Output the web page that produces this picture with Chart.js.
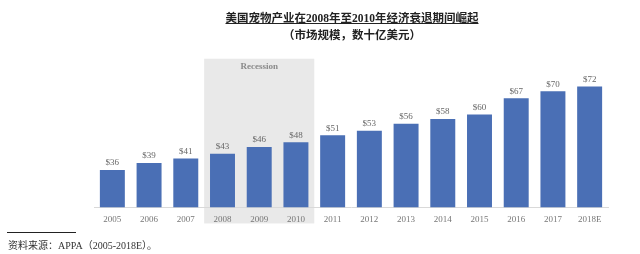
<!DOCTYPE html>
<html>
<head>
<meta charset="utf-8">
<script src="https://cdn.jsdelivr.net/npm/chart.js@4"></script>
<style>
  html, body { margin: 0; padding: 0; background: #fff; }
  #wrap { position: relative; width: 640px; height: 254px; overflow: hidden; }
  #chart { position: absolute; left: 0; top: 0; }
  .title { position: absolute; left: 0; width: 704px; text-align: center; font-family: "Liberation Serif", "Noto Sans CJK SC", serif; font-weight: bold; font-size: 11.5px; color: #222; }
  #t1 { top: 9px; text-decoration: underline; }
  #t2 { top: 26px; }
  #rule { position: absolute; left: 7px; top: 232px; width: 69px; height: 1px; background: #222; }
  #source { position: absolute; left: 8px; top: 237px; font-family: "Liberation Serif", "Noto Sans CJK SC", serif; font-size: 10px; color: #333; }
</style>
</head>
<body>
<div id="wrap">
  <canvas id="chart" width="640" height="254"></canvas>
  <div class="title" id="t1">美国宠物产业在2008年至2010年经济衰退期间崛起</div>
  <div class="title" id="t2">（市场规模，数十亿美元）</div>
  <div id="rule"></div>
  <div id="source">资料来源：APPA（2005-2018E）。</div>
</div>
<script>
const years = ['2005', '2006', '2007', '2008', '2009', '2010', '2011', '2012', '2013', '2014', '2015', '2016', '2017', '2018E'];
const marketSize = [36, 39, 41, 43, 46, 48, 51, 53, 56, 58, 60, 67, 70, 72];
const recessionYears = ['2008', '2010'];
const recessionLabel = 'Recession';

// shaded recession band, drawn before the axis so the year labels stay on top
const recessionBand = {
  id: 'recessionBand',
  beforeDraw(chart) {
    const { ctx, scales: { x, y } } = chart;
    const step = x.getPixelForValue(1) - x.getPixelForValue(0);
    const left = x.getPixelForValue(years.indexOf(recessionYears[0])) - step / 2;
    const right = x.getPixelForValue(years.indexOf(recessionYears[1])) + step / 2;
    const top = y.getPixelForValue(84);
    const bottom = y.getPixelForValue(13);
    ctx.save();
    ctx.fillStyle = '#e9e9e9';
    ctx.fillRect(left, top, right - left, bottom - top);
    ctx.fillStyle = '#8a8a8a';
    ctx.font = 'bold 9px "Liberation Serif"';
    ctx.textAlign = 'center';
    ctx.textBaseline = 'middle';
    ctx.fillText(recessionLabel, (left + right) / 2, top + 8);
    ctx.restore();
  }
};

// "$xx" labels above each bar
const valueLabels = {
  id: 'valueLabels',
  afterDatasetsDraw(chart) {
    const { ctx } = chart;
    const meta = chart.getDatasetMeta(0);
    ctx.save();
    ctx.fillStyle = '#666';
    ctx.font = '9px "Liberation Serif"';
    ctx.textAlign = 'center';
    ctx.textBaseline = 'middle';
    meta.data.forEach((bar, i) => {
      ctx.fillText('$' + marketSize[i], bar.x, bar.y - 7);
    });
    ctx.restore();
  }
};

new Chart(document.getElementById('chart').getContext('2d'), {
  type: 'bar',
  data: {
    labels: years,
    datasets: [{
      data: marketSize,
      backgroundColor: '#4a6fb5',
      barPercentage: 0.85,
      categoryPercentage: 0.8
    }]
  },
  options: {
    responsive: false,
    animation: false,
    events: [],
    layout: { padding: { left: 94, right: 32, top: 68, bottom: 22 } },
    plugins: { legend: { display: false }, tooltip: { enabled: false } },
    scales: {
      x: {
        grid: { display: false, drawTicks: false },
        border: { display: true, color: '#d9d9d9' },
        ticks: { color: '#777', font: { family: 'Liberation Serif', size: 9 }, padding: 7, maxRotation: 0 }
      },
      y: { display: false, min: 20, max: 80 }
    }
  },
  plugins: [recessionBand, valueLabels]
});
</script>
</body>
</html>
